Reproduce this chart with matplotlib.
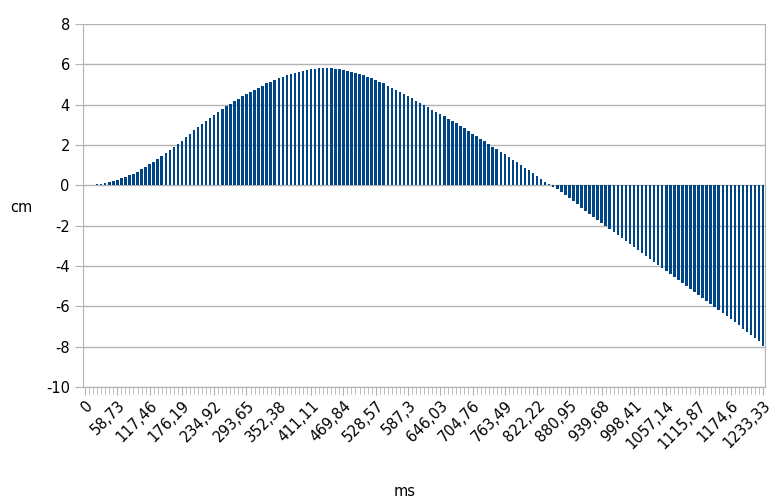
import matplotlib
matplotlib.use("Agg")
import matplotlib.pyplot as plt
import numpy as np

# --- data (one bar per sample, ~7.34 ms apart) ---
values = [
    0.02, 0.03, 0.04, 0.06, 0.09, 0.13, 0.17, 0.22, 0.28, 0.34,
    0.41, 0.49, 0.58, 0.68, 0.79, 0.91, 1.04, 1.17, 1.31, 1.45,
    1.60, 1.75, 1.90, 2.06, 2.22, 2.39, 2.56, 2.73, 2.90, 3.05,
    3.20, 3.35, 3.50, 3.64, 3.78, 3.91, 4.04, 4.17, 4.29, 4.41,
    4.53, 4.64, 4.75, 4.85, 4.95, 5.05, 5.14, 5.23, 5.31, 5.39,
    5.46, 5.53, 5.59, 5.64, 5.69, 5.73, 5.76, 5.79, 5.81, 5.82,
    5.82, 5.81, 5.79, 5.76, 5.72, 5.68, 5.63, 5.58, 5.52, 5.46,
    5.39, 5.31, 5.23, 5.14, 5.05, 4.95, 4.85, 4.75, 4.64, 4.53,
    4.42, 4.31, 4.20, 4.09, 3.98, 3.87, 3.76, 3.65, 3.54, 3.43,
    3.31, 3.19, 3.07, 2.95, 2.83, 2.70, 2.57, 2.44, 2.31, 2.18,
    2.05, 1.92, 1.79, 1.66, 1.53, 1.40, 1.27, 1.14, 1.01, 0.88,
    0.75, 0.62, 0.48, 0.33, 0.19, 0.06, -0.06, -0.17, -0.32, -0.48,
    -0.64, -0.80, -0.95, -1.10, -1.25, -1.40, -1.55, -1.70, -1.85, -2.00,
    -2.15, -2.30, -2.45, -2.60, -2.75, -2.90, -3.05, -3.20, -3.35, -3.50,
    -3.65, -3.80, -3.95, -4.10, -4.25, -4.40, -4.55, -4.70, -4.85, -5.00,
    -5.15, -5.30, -5.45, -5.60, -5.75, -5.90, -6.05, -6.20, -6.35, -6.50,
    -6.65, -6.80, -6.95, -7.10, -7.25, -7.40, -7.55, -7.72, -7.98,
]

tick_labels = [
    "0", "58,73", "117,46", "176,19", "234,92", "293,65", "352,38",
    "411,11", "469,84", "528,57", "587,3", "646,03", "704,76", "763,49",
    "822,22", "880,95", "939,68", "998,41", "1057,14", "1115,87",
    "1174,6", "1233,33",
]
LABEL_EVERY = 8

BAR_COLOUR = "#004586"
GRID_COLOUR = "#b3b3b3"

plt.rcParams["font.family"] = "DejaVu Sans"
plt.rcParams["axes.unicode_minus"] = False

fig = plt.figure(figsize=(7.76, 5.0), dpi=100)
ax = fig.add_axes([0.107, 0.226, 0.879, 0.726])

x = np.arange(len(values))
ax.bar(x, values, width=0.62, color=BAR_COLOUR, zorder=3)

ax.set_xlim(-0.5, len(values) - 0.5)
ax.set_ylim(-10, 8)
ax.set_yticks(range(-10, 9, 2))
ax.yaxis.grid(True, color=GRID_COLOUR, linewidth=1, zorder=0)

ax.set_xticks(x[::LABEL_EVERY])
ax.set_xticklabels(tick_labels, rotation=45, ha="right",
                   rotation_mode="anchor", fontsize=10.5)
ax.set_xticks(x, minor=True)
ax.tick_params(axis="x", which="major", length=6, color=GRID_COLOUR, pad=2)
ax.tick_params(axis="x", which="minor", length=5, color=GRID_COLOUR)
ax.tick_params(axis="y", length=6, color=GRID_COLOUR, labelsize=10.5)

for side in ["left", "bottom", "right"]:
    ax.spines[side].set_color(GRID_COLOUR)
ax.spines["top"].set_visible(False)

fig.text(0.028, 0.585, "cm", fontsize=10.5, ha="center", va="center")
fig.text(0.522, 0.018, "ms", fontsize=10.5, ha="center", va="center")

fig.savefig("out.png", dpi=100)
